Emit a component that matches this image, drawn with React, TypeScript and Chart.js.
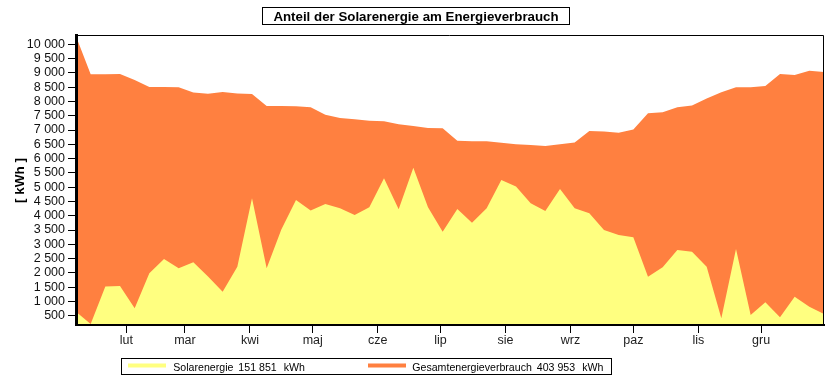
import React, { useEffect, useRef } from 'react';
import { Chart, registerables } from 'chart.js';

Chart.register(...registerables);

// Week numbers (1..52), each point = end of week (day = week * 7)
const weeks: number[] = [
  1, 2, 3, 4, 5, 6, 7, 8, 9, 10, 11, 12, 13, 14, 15, 16, 17, 18, 19, 20, 21, 22, 23, 24, 25, 26,
  27, 28, 29, 30, 31, 32, 33, 34, 35, 36, 37, 38, 39, 40, 41, 42, 43, 44, 45, 46, 47, 48, 49, 50, 51, 52,
];

const solarValues: number[] = [
  640, 210, 1520, 1540, 760, 1985, 2485, 2160, 2370, 1870, 1340, 2215, 4610, 2160, 3520, 4550, 4180,
  4410, 4260, 4025, 4295, 5310, 4225, 5680, 4295, 3440, 4235, 3756, 4260, 5250, 5020, 4435, 4165, 4935,
  4260, 4085, 3500, 3325, 3245, 1866, 2195, 2800, 2740, 2215, 410, 2835, 525, 970, 445, 1165, 815, 560,
];

const totalValues: number[] = [
  10280, 8950, 8950, 8960, 8750, 8505, 8505, 8495, 8310, 8270, 8330, 8280, 8260, 7840, 7840, 7830, 7795,
  7530, 7420, 7375, 7325, 7305, 7200, 7140, 7070, 7060, 6626, 6610, 6610, 6555, 6500, 6475, 6440, 6500,
  6560, 6965, 6950, 6905, 7020, 7585, 7620, 7795, 7860, 8100, 8320, 8495, 8495, 8540, 8960, 8925, 9076, 9030,
];

const monthLabels: string[] = ['lut', 'mar', 'kwi', 'maj', 'cze', 'lip', 'sie', 'wrz', 'paz', 'lis', 'gru'];
const monthStartDays: number[] = [31, 59, 90, 120, 151, 181, 212, 243, 273, 304, 334];

const yTickValues: number[] = [
  500, 1000, 1500, 2000, 2500, 3000, 3500, 4000, 4500, 5000, 5500, 6000, 6500, 7000, 7500, 8000, 8500,
  9000, 9500, 10000,
];

const titleText = 'Anteil der Solarenergie am Energieverbrauch';
const yAxisTitle = '[ kWh ]';
const legendLabels: string[] = ['Solarenergie', 'Gesamtenergieverbrauch'];
const legendTotals: string[] = ['151 851', '403 953'];
const legendUnit = 'kWh';

const YELLOW = '#FFFF80';
const ORANGE = '#FF8040';
const FONT = '"Liberation Sans", Arial, Helvetica, sans-serif';

function fmt(v: number): string {
  if (v >= 1000) {
    const th = Math.floor(v / 1000);
    const rest = String(v % 1000).padStart(3, '0');
    return `${th} ${rest}`;
  }
  return String(v);
}

const decorPlugin = {
  id: 'decor',
  afterDraw(chart: any) {
    const ctx = chart.ctx as CanvasRenderingContext2D;
    const ca = chart.chartArea;
    ctx.save();
    // frame top & right
    ctx.strokeStyle = '#000';
    ctx.lineWidth = 1;
    ctx.beginPath();
    ctx.moveTo(ca.left, 35.5);
    ctx.lineTo(823.5, 35.5);
    ctx.lineTo(823.5, ca.bottom);
    ctx.stroke();

    // title box
    ctx.strokeRect(262.5, 7.5, 307, 17);
    ctx.fillStyle = '#000';
    ctx.font = `bold 13.3px ${FONT}`;
    ctx.textAlign = 'center';
    ctx.textBaseline = 'alphabetic';
    ctx.fillText(titleText, 416, 21);

    // y axis title
    ctx.save();
    ctx.translate(20, 180.5);
    ctx.rotate(-Math.PI / 2);
    ctx.font = `bold 13.5px ${FONT}`;
    ctx.textAlign = 'center';
    ctx.textBaseline = 'middle';
    ctx.fillText(yAxisTitle, 0, 0);
    ctx.restore();

    // legend box
    ctx.strokeRect(121.5, 358.5, 490, 16);
    const colors = [YELLOW, ORANGE];
    const lineX = [128, 368];
    const labelX = [173.3, 412.3];
    ctx.font = `10.6px ${FONT}`;
    ctx.textAlign = 'left';
    ctx.textBaseline = 'alphabetic';
    for (let i = 0; i < 2; i++) {
      ctx.fillStyle = colors[i];
      ctx.fillRect(lineX[i], 363.5, 38, 4);
      ctx.fillStyle = '#000';
      const lbl = legendLabels[i];
      ctx.fillText(lbl, labelX[i], 370.7);
      let x = labelX[i] + ctx.measureText(lbl).width + 5;
      ctx.fillText(legendTotals[i], x, 370.7);
      x += ctx.measureText(legendTotals[i]).width + 7;
      ctx.fillText(legendUnit, x, 370.7);
    }
    ctx.restore();
  },
};

export default function App() {
  const ref = useRef<HTMLCanvasElement>(null);
  useEffect(() => {
    if (!ref.current) return;
    const chart = new Chart(ref.current, {
      type: 'line',
      data: {
        datasets: [
          {
            label: legendLabels[0],
            data: weeks.map((w, i) => ({ x: w * 7, y: solarValues[i] })),
            backgroundColor: YELLOW,
            borderColor: YELLOW,
            borderWidth: 0,
            pointRadius: 0,
            tension: 0,
            fill: 'start',
          },
          {
            label: legendLabels[1],
            data: weeks.map((w, i) => ({ x: w * 7, y: totalValues[i] })),
            backgroundColor: ORANGE,
            borderColor: ORANGE,
            borderWidth: 0,
            pointRadius: 0,
            tension: 0,
            fill: 'start',
          },
        ],
      },
      options: {
        responsive: false,
        animation: false,
        layout: { padding: { top: 35, right: 11, left: 0, bottom: 0 } },
        plugins: {
          legend: { display: false },
          title: { display: false },
          tooltip: { enabled: false },
        },
        scales: {
          x: {
            type: 'linear',
            min: 7,
            max: 364,
            afterBuildTicks: (s: any) => {
              s.ticks = monthStartDays.map((v) => ({ value: v }));
            },
            afterFit: (s: any) => {
              s.height = 63;
            },
            ticks: {
              autoSkip: false,
              maxRotation: 0,
              minRotation: 0,
              padding: 0,
              color: '#222',
              font: { family: FONT, size: 12.5 },
              callback: (v: any) => {
                const idx = monthStartDays.indexOf(Number(v));
                return idx >= 0 ? monthLabels[idx] : '';
              },
            },
            grid: { drawOnChartArea: false, drawTicks: true, tickLength: 8, color: '#000', lineWidth: 1 },
            border: { display: true, color: '#000', width: 2, z: 1 },
          },
          y: {
            type: 'linear',
            min: 175,
            max: 10325,
            afterBuildTicks: (s: any) => {
              s.ticks = yTickValues.map((v) => ({ value: v }));
            },
            afterFit: (s: any) => {
              s.width = 76;
            },
            ticks: {
              autoSkip: false,
              padding: 3,
              color: '#111',
              font: { family: FONT, size: 12.5 },
              callback: (v: any) => fmt(Number(v)),
            },
            grid: { drawOnChartArea: false, drawTicks: true, tickLength: 8, color: '#000', lineWidth: 1 },
            border: { display: true, color: '#000', width: 3, z: 1 },
          },
        },
      },
      plugins: [decorPlugin],
    } as any);
    return () => chart.destroy();
  }, []);
  return (
    <div style={{ position: 'fixed', left: 0, top: 0, width: 835, height: 388, background: '#fff' }}>
      <canvas ref={ref} width={835} height={388} style={{ display: 'block', width: 835, height: 388 }} />
    </div>
  );
}
